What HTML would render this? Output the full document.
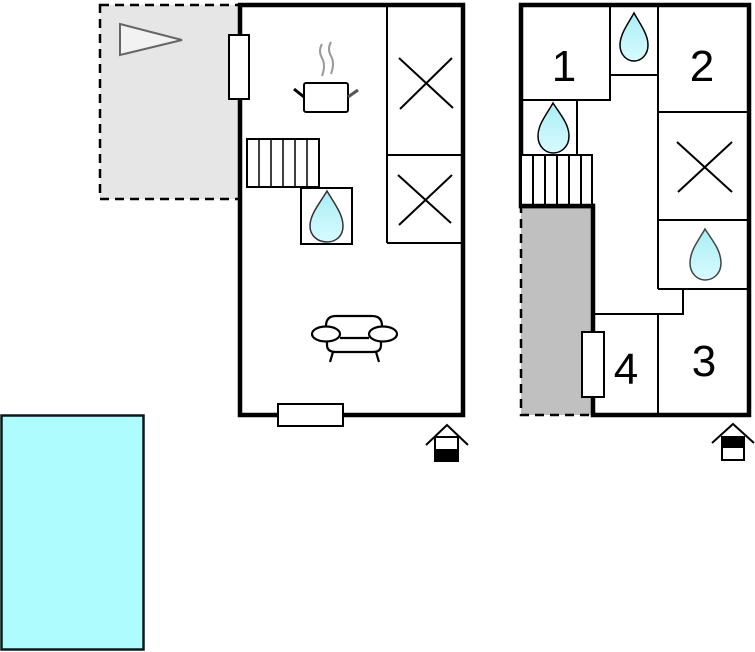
<!DOCTYPE html>
<html><head><meta charset="utf-8"><style>html,body{margin:0;padding:0;background:#fff}svg{display:block}</style></head>
<body>
<svg width="755" height="652" viewBox="0 0 755 652" xmlns="http://www.w3.org/2000/svg">
<defs>
<linearGradient id="dg" x1="0" y1="0" x2="0" y2="1"><stop offset="0" stop-color="#a8eef5"/><stop offset="1" stop-color="#d8fbff"/></linearGradient>
</defs>
<!-- terrace -->
<rect x="100" y="5" width="140" height="194" fill="#e6e6e6" stroke="#000" stroke-width="2.5" stroke-dasharray="9,6"/>
<polygon points="120,24 182,40 120,55" fill="#f2f2f2" stroke="#666" stroke-width="2"/>
<!-- left building -->
<rect x="240" y="5" width="223" height="410" fill="#fff" stroke="#000" stroke-width="4.5"/>
<line x1="387" y1="5" x2="387" y2="243" stroke="#000" stroke-width="2"/>
<line x1="387" y1="155" x2="463" y2="155" stroke="#000" stroke-width="2"/>
<line x1="387" y1="243" x2="463" y2="243" stroke="#000" stroke-width="2"/>
<g stroke="#000" stroke-width="2">
<line x1="399" y1="58" x2="453" y2="108"/><line x1="452" y1="58" x2="400" y2="109"/>
<line x1="398" y1="175" x2="451" y2="223"/><line x1="452" y1="175" x2="399" y2="225"/>
</g>
<rect x="229" y="35" width="20" height="64" fill="#fff" stroke="#000" stroke-width="2"/>
<!-- pot -->
<path d="M322,44 q-4,7 0,14 q4,7 0,18" fill="none" stroke="#999" stroke-width="2"/>
<path d="M331,42 q-4,7 0,14 q4,7 0,18" fill="none" stroke="#999" stroke-width="2"/>
<rect x="304" y="83" width="44" height="29" rx="2" fill="#fff" stroke="#000" stroke-width="2"/>
<line x1="294" y1="89" x2="304" y2="97" stroke="#000" stroke-width="3"/>
<line x1="348" y1="97" x2="358" y2="90" stroke="#555" stroke-width="3"/>
<!-- stairs -->
<rect x="247" y="139" width="72" height="48" fill="#fff" stroke="#000" stroke-width="2"/>
<g stroke="#000" stroke-width="1.5"><line x1="259" y1="139" x2="259" y2="187"/><line x1="271" y1="139" x2="271" y2="187"/><line x1="283" y1="139" x2="283" y2="187"/><line x1="295" y1="139" x2="295" y2="187"/><line x1="307" y1="139" x2="307" y2="187"/></g>
<rect x="301" y="188" width="51" height="56" fill="#fff" stroke="#000" stroke-width="2"/>
<path d="M327,191 C320,203 310,214 310,226 C310,236 318,242 327,242 C336,242 343,236 343,226 C343,214 334,203 327,191Z" fill="url(#dg)" stroke="#333" stroke-width="1.5"/>
<!-- sofa -->
<g fill="#fff" stroke="#000" stroke-width="2.2">
<path d="M326,339 L326,326 Q326,316 336,316 L372,316 Q382,316 382,326 L382,339"/>
<path d="M327,338 L327,345 Q327,352 336,352 L373,352 Q381,352 381,345 L381,338"/>
<line x1="333" y1="352" x2="330" y2="362"/><line x1="376" y1="352" x2="379" y2="362"/>
<ellipse cx="326" cy="334" rx="14" ry="7.5"/><ellipse cx="383" cy="334" rx="14" ry="7.5"/>
<line x1="340" y1="338" x2="369" y2="338"/>
</g>
<rect x="278" y="404" width="65" height="22" fill="#fff" stroke="#000" stroke-width="2"/>
<!-- left house icon -->
<polyline points="426,445 447,425 468,445" fill="none" stroke="#000" stroke-width="2"/>
<rect x="435" y="437" width="23" height="24" fill="#fff" stroke="#000" stroke-width="2"/>
<rect x="435" y="449" width="23" height="12" fill="#000"/>
<!-- right building -->
<rect x="521" y="206" width="72" height="209" fill="#c0c0c0" stroke="#000" stroke-width="2.5" stroke-dasharray="9,6"/>
<path d="M593,415 L593,206 L521,206 L521,5 L749,5 L749,415 Z" fill="#fff" stroke="#000" stroke-width="4.5"/>
<g fill="none" stroke="#000" stroke-width="2">
<polyline points="521,100 610,100 610,5"/>
<polyline points="610,75 658,75 658,5"/>
<line x1="658" y1="75" x2="658" y2="289"/>
<line x1="658" y1="112" x2="749" y2="112"/>
<line x1="658" y1="220" x2="749" y2="220"/>
<line x1="658" y1="289" x2="749" y2="289"/>
<polyline points="683,289 683,314 595,314"/>
<line x1="658" y1="314" x2="658" y2="415"/>
<polyline points="521,155 577,155 577,100"/>
<rect x="521" y="155" width="71" height="51" fill="#fff"/>
<line x1="533" y1="155" x2="533" y2="206"/><line x1="545" y1="155" x2="545" y2="206"/><line x1="557" y1="155" x2="557" y2="206"/><line x1="569" y1="155" x2="569" y2="206"/><line x1="581" y1="155" x2="581" y2="206"/>
<line x1="677" y1="142" x2="732" y2="192"/><line x1="732" y1="142" x2="678" y2="192"/>
</g>
<line x1="519" y1="206" x2="595" y2="206" stroke="#000" stroke-width="4.5"/>
<path d="M634,13 C628,24 620,34 620,45 C620,55 627,61 634,61 C641,61 648,55 648,45 C648,34 640,24 634,13Z" fill="url(#dg)" stroke="#000" stroke-width="1.5"/>
<path d="M553,103 C547,114 538,124 538,136 C538,147 546,153 553,153 C561,153 569,147 569,136 C569,124 560,114 553,103Z" fill="url(#dg)" stroke="#000" stroke-width="1.5"/>
<path d="M705,229 C699,240 690,250 690,263 C690,274 698,280 705,280 C713,280 721,274 721,263 C721,250 712,240 705,229Z" fill="url(#dg)" stroke="#444" stroke-width="1.5"/>
<rect x="582" y="332" width="22" height="65" fill="#fff" stroke="#000" stroke-width="2"/>
<g font-family="Liberation Sans, sans-serif" font-size="44" fill="#000" text-anchor="middle">
<text x="564" y="81">1</text><text x="702" y="81">2</text><text x="704" y="376">3</text><text x="626" y="384">4</text>
</g>
<!-- right house icon -->
<polyline points="712,443 733,424 754,443" fill="none" stroke="#000" stroke-width="2"/>
<rect x="722" y="437" width="22" height="23" fill="#fff" stroke="#000" stroke-width="2"/>
<rect x="722" y="437" width="22" height="11" fill="#000"/>
<!-- pool -->
<rect x="1.5" y="415.5" width="142" height="234" fill="#aefcfe" stroke="#0a1a1a" stroke-width="2.5"/>
</svg>
</body></html>
